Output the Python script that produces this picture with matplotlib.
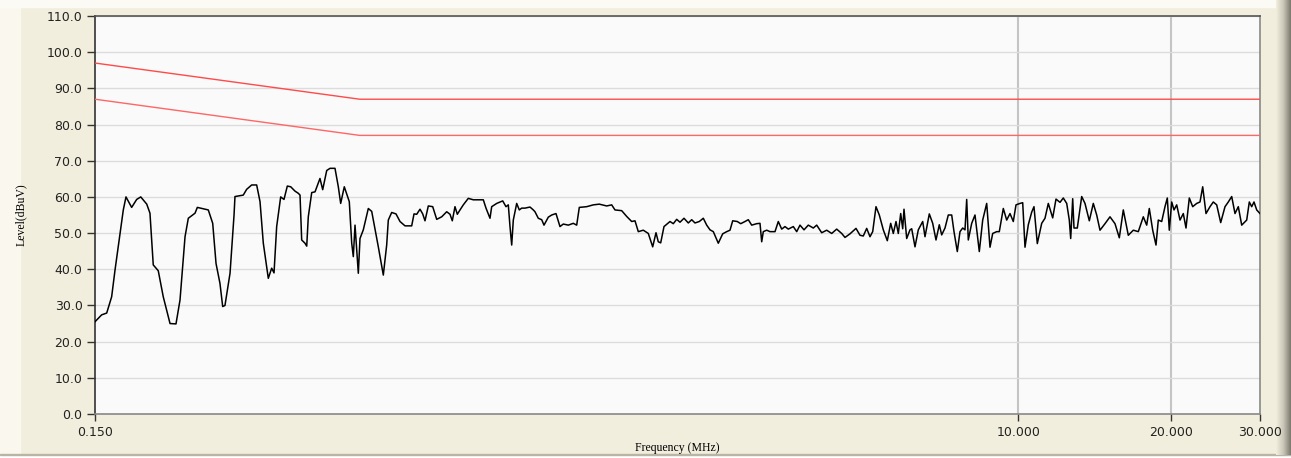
import numpy as np
import matplotlib
matplotlib.use("Agg")
import matplotlib.pyplot as plt
from matplotlib.patches import Rectangle

# measured trace, frequency in MHz and level in dBuV
freq_mhz = [
    0.150, 0.1546, 0.1582, 0.1618, 0.1643, 0.1681, 0.1706, 0.1727, 0.1772, 0.1813,
    0.1847, 0.1898, 0.1926, 0.1955, 0.2000, 0.2046, 0.2110, 0.2168, 0.2208, 0.2259,
    0.2293, 0.2364, 0.2389, 0.2511, 0.2562, 0.2601, 0.2648, 0.2681, 0.2709, 0.2772,
    0.2823, 0.2835, 0.2944, 0.2990, 0.3059, 0.3129, 0.3177, 0.3225, 0.3299, 0.3350,
    0.3386, 0.3427, 0.3490, 0.3543, 0.3597, 0.3653, 0.3725, 0.3781, 0.3811, 0.3840,
    0.3898, 0.3929, 0.3957, 0.4019, 0.4080, 0.4173, 0.4225, 0.4303, 0.4368, 0.4468,
    0.4536, 0.4585, 0.4661, 0.4768, 0.4821, 0.4856, 0.4894, 0.4968, 0.5006, 0.5082,
    0.5199, 0.5280, 0.5441, 0.5566, 0.5652, 0.5694, 0.5782, 0.5897, 0.6005, 0.6143,
    0.6333, 0.6400, 0.6479, 0.6577, 0.6658, 0.6728, 0.6830, 0.6968, 0.7096, 0.7259,
    0.7426, 0.7538, 0.7617, 0.7711, 0.7793, 0.7889, 0.8008, 0.8192, 0.8381, 0.8771,
    0.8879, 0.9042, 0.9112, 0.9322, 0.9580, 0.9724, 0.9827, 0.9903, 0.9980, 1.0053,
    1.0209, 1.0331, 1.0444, 1.0602, 1.0846, 1.1010, 1.1095, 1.1263, 1.1439, 1.1559,
    1.1787, 1.1971, 1.2207, 1.2431, 1.2619, 1.2910, 1.3206, 1.3412, 1.3572, 1.4036,
    1.4464, 1.4864, 1.5373, 1.5726, 1.5964, 1.6458, 1.6837, 1.7224, 1.7484, 1.7749,
    1.8157, 1.8575, 1.8950, 1.9237, 1.9439, 1.9652, 1.9950, 2.0501, 2.0811, 2.1136,
    2.1455, 2.1849, 2.2281, 2.2628, 2.2970, 2.3424, 2.3854, 2.4226, 2.4592, 2.4964,
    2.5538, 2.6054, 2.6533, 2.6934, 2.7267, 2.7843, 2.8277, 2.8835, 2.9271, 2.9727,
    3.0411, 3.0871, 3.1111, 3.1338, 3.1826, 3.2307, 3.3051, 3.3550, 3.4073, 3.4588,
    3.5111, 3.5919, 3.6479, 3.7030, 3.7710, 3.8455, 3.9339, 3.9952, 4.0871, 4.1811,
    4.2773, 4.3756, 4.4763, 4.5440, 4.6485, 4.7771, 4.8648, 4.9383, 5.0153, 5.0911,
    5.1540, 5.2320, 5.3111, 5.4086, 5.5079, 5.5938, 5.6603, 5.7302, 5.7905, 5.8541,
    5.9075, 5.9425, 6.0160, 6.1070, 6.1544, 6.2474, 6.3419, 6.4701, 6.5381, 6.6672,
    6.7711, 6.8734, 6.9774, 7.0540, 7.1607, 7.2689, 7.3822, 7.4598, 7.5726, 7.6661,
    7.7609, 7.8425, 7.9033, 7.9611, 8.0851, 8.2074, 8.3695, 8.4999, 8.6559, 8.7868,
    8.8954, 9.0587, 9.1664, 9.3347, 9.4802, 9.6236, 9.7690, 9.8897, 10.071, 10.196,
    10.303, 10.459, 10.622, 10.733, 10.896, 11.116, 11.284, 11.455, 11.686, 11.863,
    12.081, 12.263, 12.455, 12.603, 12.683, 12.799, 12.875, 13.070, 13.334, 13.535,
    13.803, 14.056, 14.275, 14.491, 14.824, 15.165, 15.514, 15.821, 16.111, 16.481,
    16.861, 17.248, 17.645, 17.920, 18.133, 18.416, 18.694, 18.891, 19.185, 19.475,
    19.680, 19.860, 20.078, 20.289, 20.540, 20.850, 21.166, 21.427, 21.751, 22.090,
    22.496, 22.836, 23.118, 23.468, 23.898, 24.260, 24.638, 25.090, 25.586, 25.973,
    26.378, 26.776, 27.181, 27.605, 28.240, 28.576, 28.889, 29.193, 29.554, 30.000,
]
level_dbuv = [
    25.5, 27.4, 27.9, 32.4, 39.8, 50.0, 56.4, 60.0, 57.1, 59.3,
    60.0, 58.0, 55.5, 41.2, 39.6, 32.4, 25.0, 24.9, 31.5, 49.0,
    54.1, 55.5, 57.1, 56.4, 52.7, 41.6, 36.1, 29.7, 30.0, 38.9,
    55.0, 60.1, 60.5, 62.1, 63.3, 63.3, 58.7, 47.2, 37.5, 40.3,
    39.0, 51.8, 60.0, 59.3, 63.0, 62.8, 61.6, 61.0, 60.5, 48.1,
    47.2, 46.4, 54.5, 61.2, 61.4, 65.1, 62.0, 67.3, 67.9, 67.9,
    62.8, 58.2, 62.8, 58.7, 47.2, 43.5, 52.2, 38.9, 48.5, 50.9,
    56.8, 56.0, 46.2, 38.4, 46.7, 53.6, 55.7, 55.3, 53.2, 52.0,
    52.0, 55.3, 55.2, 56.6, 55.3, 53.4, 57.5, 57.3, 53.8, 54.5,
    55.9, 55.2, 53.4, 57.3, 55.2, 56.4, 57.8, 59.6, 59.2, 59.2,
    56.9, 54.1, 57.3, 58.2, 58.9, 57.3, 57.8, 51.8, 46.7, 53.6,
    58.2, 56.4, 56.9, 56.9, 57.2, 56.4, 55.9, 54.1, 53.7, 52.2,
    54.4, 55.0, 55.4, 51.8, 52.5, 52.2, 52.7, 52.2, 57.1, 57.3,
    57.8, 58.0, 57.5, 57.8, 56.4, 56.2, 54.6, 53.2, 53.4, 50.4,
    50.8, 49.9, 46.2, 50.1, 47.6, 47.3, 51.8, 53.2, 52.6, 53.8,
    53.0, 54.1, 52.8, 53.7, 52.8, 53.2, 54.1, 52.2, 50.9, 50.4,
    47.2, 49.8, 50.4, 50.8, 53.4, 53.2, 52.6, 53.2, 53.7, 52.2,
    52.6, 52.7, 47.6, 50.4, 50.8, 50.4, 50.4, 53.2, 51.1, 51.8,
    51.1, 51.8, 50.4, 52.2, 50.9, 52.2, 51.4, 52.2, 50.1, 50.8,
    49.9, 51.1, 49.9, 48.8, 49.8, 51.3, 49.4, 49.2, 51.3, 49.0,
    50.4, 57.3, 55.0, 50.9, 47.9, 52.7, 49.9, 53.2, 49.9, 55.4,
    51.2, 56.6, 48.5, 50.9, 51.2, 46.2, 50.9, 53.2, 49.0, 55.3,
    52.7, 48.1, 52.3, 49.5, 51.4, 55.0, 55.0, 50.4, 44.9, 50.4,
    51.4, 50.9, 59.3, 48.1, 52.7, 55.0, 44.9, 53.6, 58.2, 46.1,
    49.9, 50.4, 50.4, 56.8, 53.6, 55.4, 53.2, 57.8, 58.2, 58.4,
    46.1, 52.3, 55.8, 57.3, 47.1, 52.7, 54.1, 58.2, 54.2, 59.4,
    58.5, 59.7, 58.2, 53.6, 48.5, 59.5, 51.4, 51.4, 60.1, 58.2,
    53.4, 58.2, 55.0, 50.8, 52.6, 54.5, 52.6, 48.7, 56.4, 49.4,
    50.8, 50.4, 54.5, 52.2, 56.8, 50.8, 46.7, 53.6, 53.2, 57.3,
    59.7, 50.8, 58.6, 56.4, 57.8, 53.6, 55.4, 51.4, 59.7, 57.3,
    58.2, 58.6, 62.8, 55.4, 57.3, 58.6, 57.8, 52.9, 57.3, 58.6,
    60.1, 55.4, 57.3, 52.2, 53.6, 58.6, 57.3, 58.6, 56.4, 55.4,
]

# limit lines
limit_freq = [0.15, 0.5, 30.0]
upper_limit = [97.0, 87.0, 87.0]
lower_limit = [87.0, 77.0, 77.0]

x_ticks = [0.15, 10.0, 20.0, 30.0]
x_tick_labels = ["0.150", "10.000", "20.000", "30.000"]
y_ticks = list(range(0, 111, 10))

W, H = 1291, 458
fig = plt.figure(figsize=(W / 100, H / 100), dpi=100)
fig.patch.set_facecolor("#f2eedd")

# window frame bits: light strip left and top, shadow on the right
fig.add_artist(Rectangle((0, 0), 20 / W, 1, transform=fig.transFigure, color="#faf8ee", zorder=0))
fig.add_artist(Rectangle((0, 1 - 7 / H), 1, 7 / H, transform=fig.transFigure, color="#fbfaf4", zorder=0))
fig.add_artist(Rectangle((0, 0), 1, 3 / H, transform=fig.transFigure, color="#ffffff", zorder=0))
fig.add_artist(Rectangle((0, 3 / H), 1, 1 / H, transform=fig.transFigure, color="#b8b4a6", zorder=0))
sh = fig.add_axes([1276 / W, 3 / H, 15 / W, 1 - 3 / H])
sh.imshow(np.linspace(0, 1, 30)[None, :], cmap=matplotlib.colors.LinearSegmentedColormap.from_list(
    "sh", ["#f2eedd", "#c9c6b8", "#7d7b70"]), aspect="auto")
sh.axis("off")

ax = fig.add_axes([95 / W, 1 - 414 / H, 1165 / W, 398 / H])
ax.set_facecolor("#fafafa")

ax.plot(limit_freq, upper_limit, color="#ff4a4a", lw=1.0, zorder=3)
ax.plot(limit_freq, lower_limit, color="#ff6666", lw=1.0, zorder=3)
ax.plot(freq_mhz, level_dbuv, color="black", lw=1.1, zorder=4)

ax.set_xscale("log")
ax.set_xlim(0.15, 30)
ax.set_ylim(0, 110)
ax.set_xticks(x_ticks)
ax.set_xticklabels(x_tick_labels)
ax.xaxis.set_minor_locator(matplotlib.ticker.NullLocator())
ax.set_yticks(y_ticks)
ax.set_yticklabels([f"{v:.1f}" for v in y_ticks])

ax.grid(axis="y", color="#dcdcdc", lw=1.0, zorder=1)
for f in [10.0, 20.0]:
    ax.axvline(f, color="#c4c4c4", lw=1.5, zorder=1)

ax.tick_params(axis="y", length=6, width=1, color="#333333", labelsize=9, labelcolor="#222222", pad=3)
ax.tick_params(axis="x", length=5, width=1, color="#333333", labelsize=9, labelcolor="#222222", pad=4)

ax.spines["left"].set_color("#333333")
ax.spines["top"].set_color("#555555")
ax.spines["right"].set_color("#888888")
ax.spines["bottom"].set_color("#888888")
for s in ax.spines.values():
    s.set_linewidth(1.2)

ax.set_xlabel("Frequency (MHz)", family="Liberation Serif", fontsize=8.5, labelpad=2)
ax.set_ylabel("Level(dBuV)", family="Liberation Serif", fontsize=8.5, labelpad=14)

fig.savefig("out.png", dpi=100, facecolor=fig.get_facecolor())
